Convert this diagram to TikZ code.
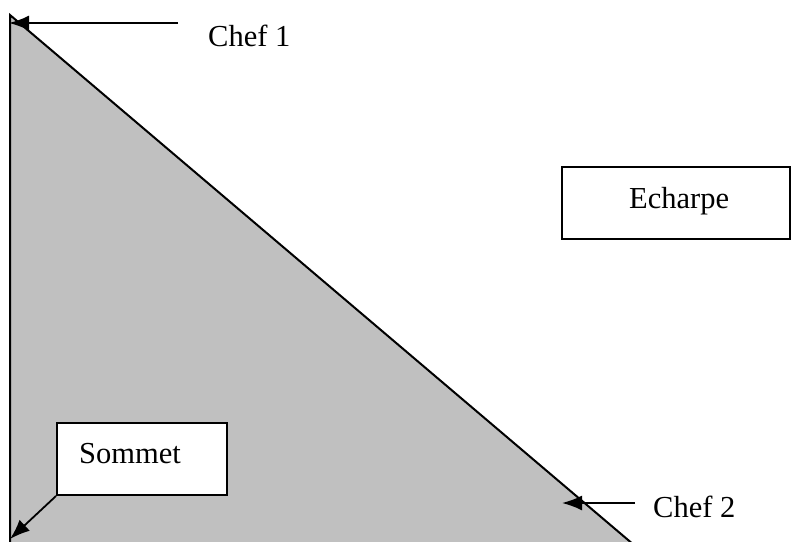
\documentclass[tikz,border=0pt]{standalone}
\usepackage{fontspec}
\setmainfont{Liberation Serif}
\usetikzlibrary{arrows.meta}
\begin{document}
\begin{tikzpicture}[x=1pt,y=-1pt,
  lbl/.style={font=\fontsize{30.5}{35}\selectfont, inner sep=0pt, anchor=base west},
  boxed/.style={draw=black, line width=2pt, fill=white, inner sep=0pt},
  arr/.style={line width=1.8pt, -{Latex[length=20pt,width=15pt]}}]
\useasboundingbox (0,0) rectangle (791,541);
% triangle
\coordinate (apex) at (10,15);
\coordinate (bl) at (10,545);
\coordinate (br) at (634,545);
\fill[fill={rgb,255:red,192;green,192;blue,192}] (apex) -- (bl) -- (br) -- cycle;
\draw[line width=2pt] (bl) -- (apex) -- (br);
% Chef 1
\node[lbl] (chef1) at (208,46) {Chef 1};
\coordinate (c1s) at (178,23);
\coordinate (c1e) at (9,23);
\draw[arr] (c1s) -- (c1e);
% Echarpe
\node[boxed, minimum width=228pt, minimum height=72pt] (echbox) at (676,203) {};
\node[lbl] (echarpe) at (629,208) {Echarpe};
% Sommet
\node[boxed, minimum width=170pt, minimum height=72pt] (sombox) at (142,459) {};
\node[lbl] (sommet) at (79,463) {Sommet};
\coordinate (somtip) at (10,539);
\draw[arr] (sombox.south west) -- (somtip);
% Chef 2
\node[lbl] (chef2) at (653,517) {Chef 2};
\coordinate (c2s) at (635,503);
\coordinate (c2e) at (562,503);
\draw[arr] (c2s) -- (c2e);
\end{tikzpicture}
\end{document}
